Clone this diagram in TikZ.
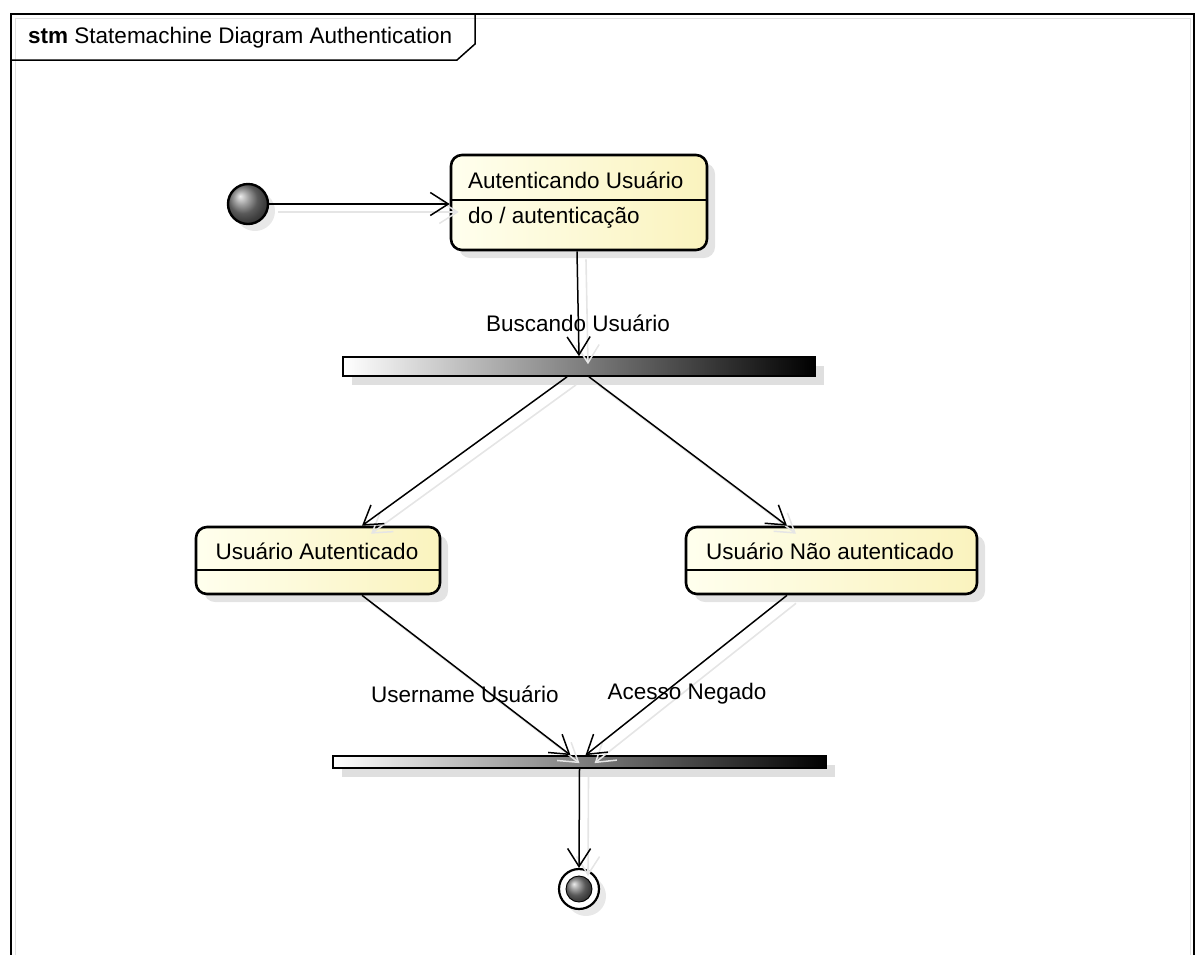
\documentclass[tikz,border=0pt]{standalone}
\usepackage{fontspec}
\setmainfont{Liberation Sans}
\usetikzlibrary{arrows.meta,shadows,calc}

\definecolor{stateLight}{RGB}{255,255,238}
\definecolor{stateDark}{RGB}{250,243,190}

\tikzset{
  every node/.style={font=\fontsize{22.5}{27}\selectfont, inner sep=0pt},
  statebox/.style={draw, line width=2.6pt, rounded corners=11pt,
    left color=stateLight, right color=stateDark,
    drop shadow={shadow xshift=8pt, shadow yshift=-8pt, fill=black!18, opacity=0.6}},
  syncbar/.style={draw, line width=1.7pt, left color=white, right color=black,
    drop shadow={shadow xshift=9pt, shadow yshift=-9pt, fill=black!18, opacity=0.7}},
  transition/.style={line width=1.5pt, -{Straight Barb[length=18pt, width=23pt, line width=1.5pt]},
    preaction={draw=black!10, line width=1.6pt, transform canvas={shift={(9pt,-8pt)}}}},
  framerule/.style={line width=1.8pt},
}

\begin{document}
\begin{tikzpicture}[x=1pt, y=-1pt]
  \useasboundingbox (0,0) rectangle (1199,954);

  % diagram frame and its name tab
  \draw[black!12, line width=1pt] (15,962) -- (15,18) -- (1190,18) -- (1190,962);
  \draw[framerule] (11,962) -- (11,14) -- (1194,14) -- (1194,962);
  \draw[line width=1.5pt] (11,60) -- (457,60) -- (475,44) -- (475,14);
  \node[anchor=west] (frametitle) at (28,38) {\textbf{stm} Statemachine Diagram Authentication};

  % initial pseudostate
  \node[circle, draw, line width=2.4pt, minimum size=40pt, shading=ball, ball color=black!50,
    drop shadow={shadow xshift=7pt, shadow yshift=-7pt, fill=black!15, opacity=0.6}] (init) at (248,204) {};

  % state: Autenticando Usuário
  \node[statebox, minimum width=256pt, minimum height=95pt] (auth) at (579,202.5) {};
  \draw[line width=1.4pt] (auth.west |- 0,200) -- (auth.east |- 0,200);
  \node[anchor=west] (authname) at (468,180) {Autenticando Usuário};
  \node[anchor=west] (authdo) at (468,218) {do / autenticação};

  % fork bar
  \node[syncbar, minimum width=472pt, minimum height=19pt] (fork) at (579,366.5) {};

  % states after the fork
  \node[statebox, minimum width=244pt, minimum height=67pt] (ok) at (318,560.5) {};
  \draw[line width=1.4pt] (ok.west |- 0,570) -- (ok.east |- 0,570);
  \node (okname) at (317,551) {Usuário Autenticado};

  \node[statebox, minimum width=291pt, minimum height=67pt] (denied) at (831.5,560.5) {};
  \draw[line width=1.4pt] (denied.west |- 0,570) -- (denied.east |- 0,570);
  \node (deniedname) at (830,551) {Usuário Não autenticado};

  % join bar
  \node[syncbar, minimum width=493pt, minimum height=12pt] (join) at (579.5,762) {};

  % final state
  \node[circle, draw, line width=2.2pt, fill=white, minimum size=40pt,
    drop shadow={shadow xshift=7pt, shadow yshift=-7pt, fill=black!15, opacity=0.6}] (final) at (579,889) {};
  \node[circle, draw, line width=0.9pt, minimum size=26pt, shading=ball, ball color=black!50] (finalcore) at (final.center) {};

  % transitions
  \draw[transition] (init.east) -- (auth.west |- init.east);
  \draw[transition] ($(auth.south)+(-2,0)$) -- (fork.north);
  \draw[transition] ($(fork.south)+(-12,0)$) -- (ok.north -| 362,0);
  \draw[transition] ($(fork.south)+(10,0)$) -- (denied.north -| 787,0);
  \draw[transition] (ok.south -| 362,0) -- ($(join.north)+(-9,0)$);
  \draw[transition] (denied.south -| 787,0) -- ($(join.north)+(6,0)$);
  \draw[transition] (join.south) -- (final.north);

  % transition labels
  \node (lblsearch) at (578,323) {Buscando Usuário};
  \node (lbluser) at (465,694) {Username Usuário};
  \node (lbldenied) at (687,694) {Acesso Negado};
\end{tikzpicture}
\end{document}
